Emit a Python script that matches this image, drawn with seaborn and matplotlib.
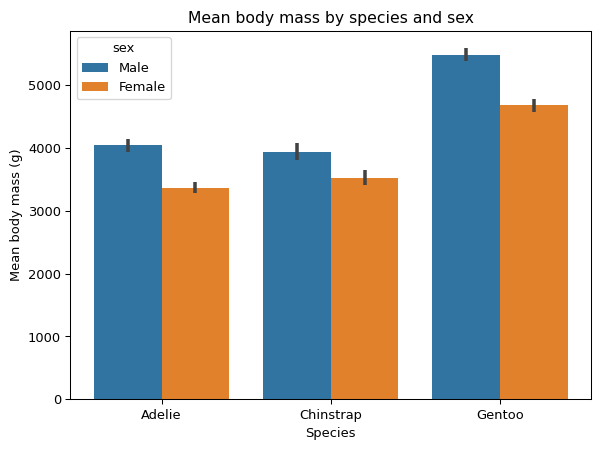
import numpy as np
import pandas as pd
import matplotlib
matplotlib.use("Agg")
import matplotlib.pyplot as plt
import seaborn as sns

species = ["Adelie", "Chinstrap", "Gentoo"]
sexes = ["Male", "Female"]
male_mean = [4043, 3939, 5485]
female_mean = [3369, 3527, 4680]
# error bar bounds
male_low = [3939, 3806, 5383]
male_high = [4147, 4072, 5587]
female_low = [3285, 3409, 4578]
female_high = [3453, 3645, 4782]

df = pd.DataFrame({
    "species": species * 2,
    "sex": ["Male"] * 3 + ["Female"] * 3,
    "body_mass_g": male_mean + female_mean,
})

fig, ax = plt.subplots(figsize=(6.4, 4.812), dpi=93.75)
sns.barplot(data=df, x="species", y="body_mass_g", hue="sex",
            hue_order=sexes, order=species, errorbar=None, ax=ax)

lows = [male_low, female_low]
highs = [male_high, female_high]
for cont, lo, hi in zip(ax.containers, lows, highs):
    xs = [b.get_x() + b.get_width() / 2 for b in cont]
    ax.vlines(xs, lo, hi, color=".26", lw=2.7, zorder=3)

ax.set_title("Mean body mass by species and sex")
ax.set_xlabel("Species")
ax.set_ylabel("Mean body mass (g)")
ax.legend(title="sex", loc="upper left")

fig.subplots_adjust(left=0.117, right=0.9855, bottom=0.1146, top=0.932)
plt.savefig("out.png")
